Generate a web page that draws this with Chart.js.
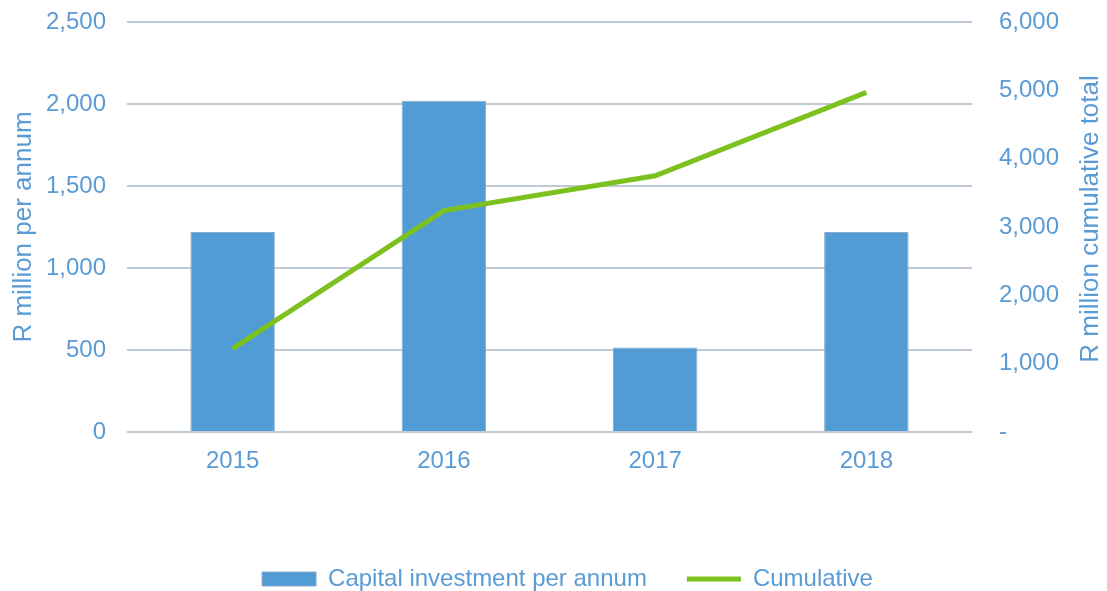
<!DOCTYPE html>
<html>
<head>
<meta charset="utf-8">
<script src="https://cdn.jsdelivr.net/npm/chart.js@4/dist/chart.umd.min.js"></script>
<style>
  html, body { margin: 0; padding: 0; background: #ffffff; }
  #wrap { width: 1107px; height: 591px; position: relative; }
</style>
</head>
<body>
<div id="wrap"><canvas id="chartCanvas"></canvas></div>
<script>
// Chart data
const years = ['2015', '2016', '2017', '2018'];
const investment = [1220, 2020, 515, 1220];
const cumulative = [1220, 3240, 3750, 4970];
const leftTitle = 'R million per annum';
const rightTitle = 'R million cumulative total';
const seriesNames = ['Capital investment per annum', 'Cumulative'];

const textColor = '#5a9bd5';
const barColor = '#519cd4';
const lineColor = '#7dc11f';
const gridColor = '#bfcad5';
const fontFamily = '"Liberation Sans", Arial, sans-serif';

// right axis title reads bottom-to-top in the original, so draw it ourselves
const rightTitlePlugin = {
  id: 'rightTitle',
  afterLayout(chart) {
    // legend sits a little right of centre in the original
    if (chart.legend) {
      chart.legend.left += 14;
      chart.legend.right += 14;
    }
  },
  afterDraw(chart) {
    const ctx = chart.ctx;
    const area = chart.chartArea;
    ctx.save();
    ctx.translate(chart.width - 16, (area.top + area.bottom) / 2 - 8);
    ctx.rotate(-Math.PI / 2);
    ctx.font = '26px ' + fontFamily;
    ctx.fillStyle = textColor;
    ctx.textAlign = 'center';
    ctx.textBaseline = 'middle';
    ctx.fillText(rightTitle, 0, 0);
    ctx.restore();
  }
};

function fmt(v) {
  return Number(v).toLocaleString('en-US');
}

// fixed axis sizes, no extra label padding above/below the plot
function fixWidth(w) {
  return function (scale) {
    scale.width = w;
    scale.paddingTop = 0;
    scale.paddingBottom = 0;
  };
}

const ctx = document.getElementById('chartCanvas').getContext('2d');
new Chart(ctx, {
  type: 'bar',
  data: {
    labels: years,
    datasets: [
      {
        type: 'bar',
        label: seriesNames[0],
        data: investment,
        backgroundColor: barColor,
        borderColor: '#8aaac8',
        borderWidth: 1,
        categoryPercentage: 1.0,
        barPercentage: 0.4,
        pointStyle: 'rect',
        yAxisID: 'y',
        order: 1
      },
      {
        type: 'line',
        label: seriesNames[1],
        data: cumulative,
        borderColor: lineColor,
        backgroundColor: lineColor,
        borderWidth: 5,
        pointRadius: 0,
        pointStyle: 'line',
        tension: 0,
        fill: false,
        yAxisID: 'y1',
        order: 0
      }
    ]
  },
  options: {
    responsive: true,
    maintainAspectRatio: false,
    animation: false,
    layout: { padding: { top: 22, left: 0, right: 0, bottom: -10 } },
    font: { family: fontFamily },
    scales: {
      x: {
        grid: { display: false },
        border: { display: false },
        ticks: { color: textColor, font: { size: 24, family: fontFamily }, padding: 7 },
        afterFit(scale) { scale.height = 95; }
      },
      y: {
        position: 'left',
        min: 0,
        max: 2500,
        ticks: {
          stepSize: 500,
          color: textColor,
          padding: 21,
          font: { size: 24, family: fontFamily },
          callback: v => fmt(v)
        },
        grid: { color: gridColor, lineWidth: 2, drawTicks: false },
        border: { display: false },
        title: {
          display: true,
          text: leftTitle,
          color: textColor,
          font: { size: 26, family: fontFamily },
          padding: { top: 8, bottom: 0 }
        },
        afterFit: fixWidth(127)
      },
      y1: {
        position: 'right',
        min: 0,
        max: 6000,
        ticks: {
          stepSize: 1000,
          color: textColor,
          padding: 27,
          font: { size: 24, family: fontFamily },
          callback: v => (v === 0 ? '-' : fmt(v))
        },
        grid: { display: false, drawTicks: false },
        border: { display: false },
        afterFit: fixWidth(135)
      }
    },
    plugins: {
      legend: {
        position: 'bottom',
        labels: {
          usePointStyle: true,
          pointStyleWidth: 54,
          boxHeight: 14,
          padding: 40,
          color: textColor,
          font: { size: 24, family: fontFamily },
          sort: (a, b) => a.datasetIndex - b.datasetIndex
        }
      },
      tooltip: { enabled: false }
    }
  },
  plugins: [rightTitlePlugin]
});
</script>
</body>
</html>
